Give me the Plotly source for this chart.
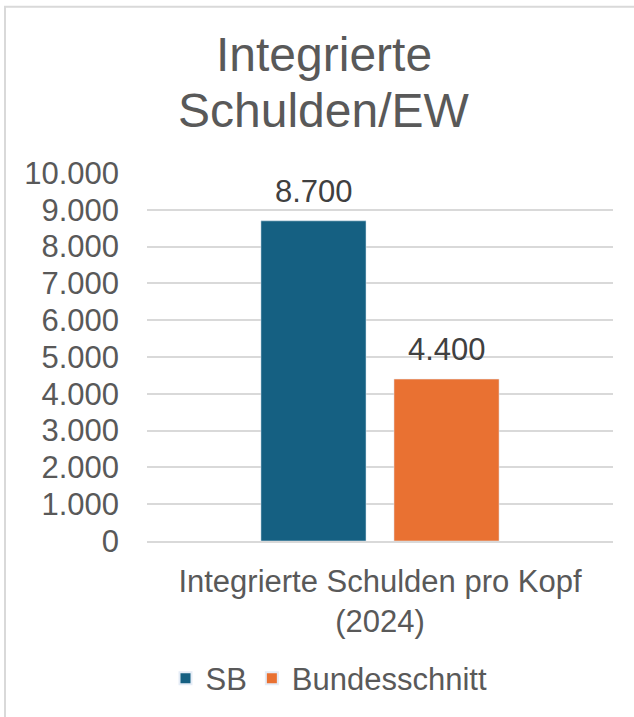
import plotly.graph_objects as go

categories = ["Integrierte Schulden pro Kopf<br>(2024)"]
series_names = ["SB", "Bundesschnitt"]
sb_values = [8700]
bund_values = [4400]
y_ticks = [0, 1000, 2000, 3000, 4000, 5000, 6000, 7000, 8000, 9000, 10000]
title_lines = ["Integrierte", "Schulden/EW"]

FONT = "Arial, Liberation Sans, sans-serif"
colors = ["#156082", "#E97132"]

W, H = 634, 717
L, R, T, B = 147, 21, 173, 172
pw = W - L - R
ph = H - T - B

def px_x(p):
    return (p - L) / pw

def px_y(p):
    return (H - B - p) / ph

fig = go.Figure()
for name, vals, col in zip(series_names, [sb_values, bund_values], colors):
    fig.add_trace(go.Bar(
        x=categories, y=vals, name=name, marker_color=col,
        cliponaxis=False,
    ))

# data labels above each bar (bar centers lie +/- 66.5 px from category centre)
for vals, dx in zip([sb_values, bund_values], [-66.5, 66.5]):
    for cat, v in zip(categories, vals):
        fig.add_annotation(x=cat, y=v, xref="x", yref="y",
                           text=f"{v:,.0f}".replace(",", "."),
                           showarrow=False, xanchor="center", yanchor="bottom",
                           xshift=dx, yshift=10,
                           font=dict(family=FONT, size=31, color="#404040"))

fig.update_layout(
    width=W, height=H,
    margin=dict(l=L, r=R, t=T, b=B, pad=0),
    paper_bgcolor="white", plot_bgcolor="white",
    separators=",.",
    barmode="group", bargap=0.429, bargroupgap=0.21,
    font=dict(family=FONT, size=31, color="#595959"),
    showlegend=True,
    legend=dict(orientation="h", x=px_x(329), xanchor="center",
                y=px_y(684), yanchor="middle",
                font=dict(family=FONT, size=31, color="#595959"),
                itemsizing="constant"),
    yaxis=dict(range=[0, 10000], tickvals=y_ticks, tickformat=",d",
               showgrid=True, gridcolor="#D9D9D9", gridwidth=1.5,
               zeroline=False, showline=False, ticks="",
               tickfont=dict(family=FONT, size=31, color="#595959"),
               ticklabelstandoff=27, fixedrange=True),
    xaxis=dict(showline=True, linecolor="#D9D9D9", linewidth=1.5,
               ticks="", tickfont=dict(family=FONT, size=31, color="#595959"),
               ticklabelstandoff=12, fixedrange=True),
)

# title as two centered lines
for txt, py in zip(title_lines, [53.5, 109.5]):
    fig.add_annotation(text=txt, xref="paper", yref="paper",
                       x=px_x(324), y=px_y(py), xanchor="center", yanchor="middle",
                       showarrow=False,
                       font=dict(family=FONT, size=48, color="#595959"))

# chart border
fig.add_shape(type="rect", xref="paper", yref="paper",
              x0=px_x(5), x1=px_x(680), y0=px_y(760), y1=px_y(5),
              line=dict(color="#D9D9D9", width=2), fillcolor="rgba(0,0,0,0)",
              layer="below")

fig.write_html("out.html", config={"displayModeBar": False},
               post_script="document.body.style.margin='0';document.body.style.overflow='hidden';")
